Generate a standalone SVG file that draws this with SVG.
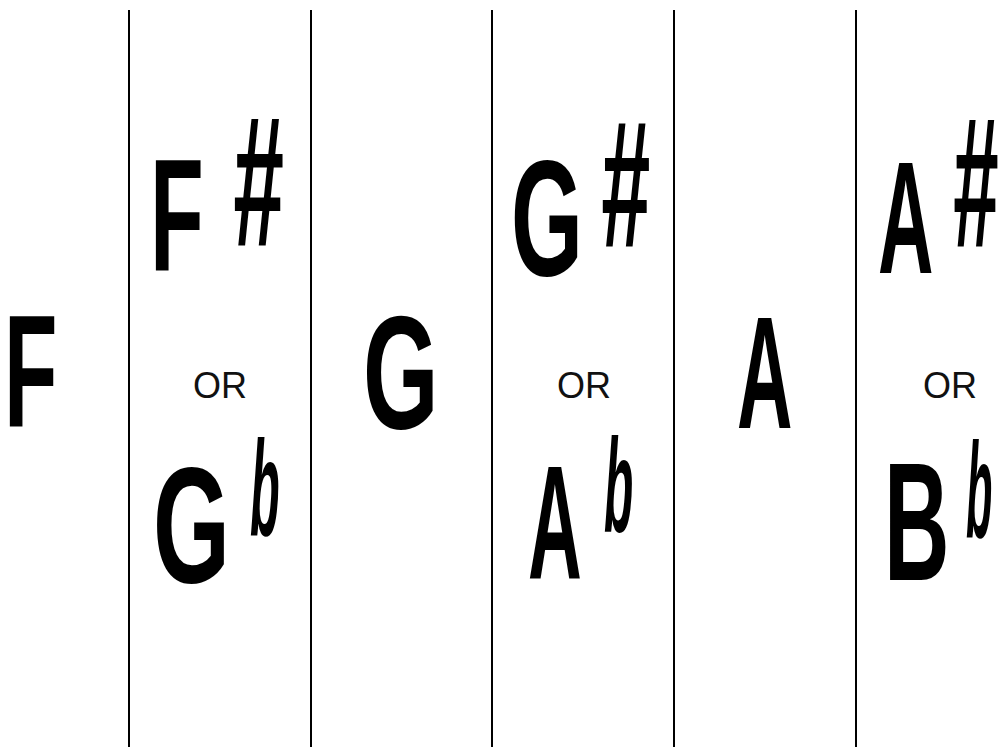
<svg xmlns="http://www.w3.org/2000/svg" width="1003" height="747" viewBox="0 0 1003 747">
<style>
.n{font-family:"Liberation Sans",Arial,sans-serif;font-weight:bold;fill:#000}
.acc{font-family:"Liberation Sans",Arial,sans-serif;font-weight:bold;font-style:italic;fill:#000}
.or{font-family:"Liberation Sans",Arial,sans-serif;font-size:36px;fill:#111;text-anchor:middle}
.ln{stroke:#000;stroke-width:2}
</style>
<rect width="1003" height="747" fill="#fff"/>
<g id="connectors">
<line class="ln" x1="129" y1="10" x2="129" y2="747"/>
<line class="ln" x1="311" y1="10" x2="311" y2="747"/>
<line class="ln" x1="492" y1="10" x2="492" y2="747"/>
<line class="ln" x1="674" y1="10" x2="674" y2="747"/>
<line class="ln" x1="856" y1="10" x2="856" y2="747"/>
</g>
<g id="key-f">
<text class="n" font-size="159" transform="translate(4,426) scale(0.55,1)">F</text>
</g>
<g id="key-fsharp-gflat">
<text class="n" font-size="160" transform="translate(150,270) scale(0.55,1)">F</text>
<text class="acc" font-size="186" transform="translate(232,246) scale(0.49,1)">#</text>
<text class="or" x="220" y="398">OR</text>
<text class="n" font-size="165" transform="translate(153,582) scale(0.6,1)">G</text>
<text class="acc" font-size="135" transform="translate(250,535) scale(0.36,1)">b</text>
</g>
<g id="key-g">
<text class="n" font-size="162" transform="translate(363,428) scale(0.6,1)">G</text>
</g>
<g id="key-gsharp-aflat">
<text class="n" font-size="165" transform="translate(511,275) scale(0.56,1)">G</text>
<text class="acc" font-size="180" transform="translate(600,247) scale(0.49,1)">#</text>
<text class="or" x="584" y="398">OR</text>
<text class="n" font-size="162" transform="translate(528,578) scale(0.46,1)">A</text>
<text class="acc" font-size="133" transform="translate(604,532) scale(0.36,1)">b</text>
</g>
<g id="key-a">
<text class="n" font-size="160" transform="translate(737,428) scale(0.48,1)">A</text>
</g>
<g id="key-asharp-bflat">
<text class="n" font-size="160" transform="translate(878,273) scale(0.48,1)">A</text>
<text class="acc" font-size="186" transform="translate(952,247) scale(0.44,1)">#</text>
<text class="or" x="950" y="398">OR</text>
<text class="n" font-size="168" transform="translate(884,580) scale(0.54,1)">B</text>
<text class="acc" font-size="135" transform="translate(966,537) scale(0.32,1)">b</text>
</g>
</svg>
